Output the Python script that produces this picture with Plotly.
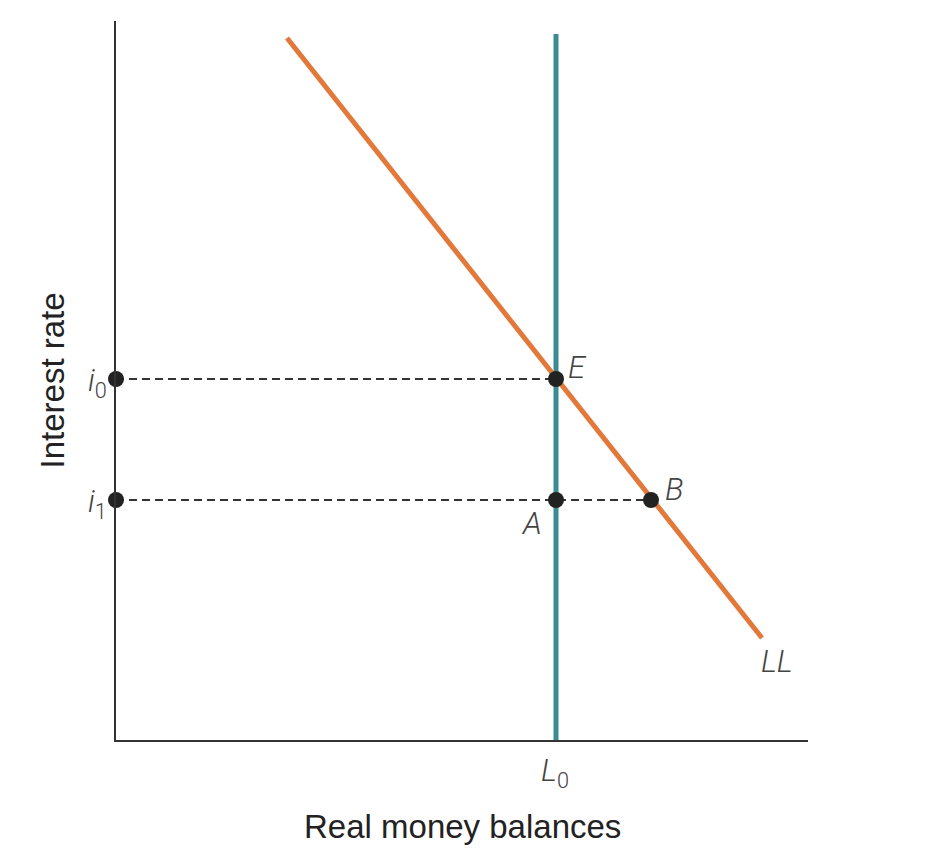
import plotly.graph_objects as go

# Money market: fixed real money supply L0 and the liquidity curve LL
money_supply_x = [440, 440]
money_supply_y = [0, 706]

ll_x = [171, 646]
ll_y = [702, 102]

rate_labels = ["<i>i</i><sub>0</sub>", "<i>i</i><sub>1</sub>"]
rate_values = [361, 240]

point_names = ["E", "A", "B"]
point_x = [440, 440, 535]
point_y = [361, 240, 240]

supply_label = "<i>L</i><sub>0</sub>"
curve_label = "LL"

TEAL = "#3b8b92"
ORANGE = "#e2793a"
INK = "#222222"
LABEL = "#444444"
TITLE_FONT = dict(family="Liberation Sans", size=33, color=INK)
LAB_FONT = dict(family="Roboto", size=31, color=LABEL, weight=300)

fig = go.Figure()

# dashed guides from the rate axis to the points
for r, bx in zip(rate_values, [point_x[0], point_x[2]]):
    fig.add_trace(go.Scatter(x=[0, bx], y=[r, r], mode="lines",
                             line=dict(color="#333333", width=1.8, dash="8px,5px"),
                             hoverinfo="skip", showlegend=False))

fig.add_trace(go.Scatter(x=money_supply_x, y=money_supply_y, mode="lines",
                         line=dict(color=TEAL, width=5), showlegend=False))
fig.add_trace(go.Scatter(x=ll_x, y=ll_y, mode="lines",
                         line=dict(color=ORANGE, width=5), showlegend=False))

# dots on the rate axis and at the equilibrium points
fig.add_trace(go.Scatter(x=[0] * len(rate_values) + point_x,
                         y=rate_values + point_y, mode="markers",
                         marker=dict(color=INK, size=16),
                         cliponaxis=False, showlegend=False))

offsets = {"E": (21, 12), "A": (-25, -23), "B": (23, 11)}
for n, px, py in zip(point_names, point_x, point_y):
    dx, dy = offsets[n]
    fig.add_annotation(x=px, y=py, text=f"<i>{n}</i>", showarrow=False,
                       xanchor="center", yanchor="middle",
                       xshift=dx, yshift=dy, font=LAB_FONT)

for t, r in zip(rate_labels, rate_values):
    fig.add_annotation(x=0, y=r, text=t, showarrow=False, xshift=-19,
                       xanchor="center", yanchor="middle",
                       yshift=-3, font=LAB_FONT)

fig.add_annotation(x=money_supply_x[0], y=0, text=supply_label, showarrow=False,
                   xanchor="center", yanchor="middle",
                   xshift=-1, yshift=-32, font=LAB_FONT)
fig.add_annotation(x=ll_x[1], y=ll_y[1], text=f"<i>{curve_label}</i>",
                   xanchor="center", yanchor="middle",
                   showarrow=False, xshift=15, yshift=-23, font=LAB_FONT)

# axis titles
fig.add_annotation(xref="paper", yref="paper", x=0.5, y=0, yshift=-86,
                   xanchor="center", yanchor="middle",
                   text="Real money balances", showarrow=False, font=TITLE_FONT)
fig.add_annotation(xref="paper", yref="paper", x=0, y=0.5, xshift=-64,
                   xanchor="center", yanchor="middle",
                   text="Interest rate", textangle=-90, showarrow=False,
                   font=TITLE_FONT)

fig.update_layout(
    width=948, height=864,
    margin=dict(l=116, r=140, t=21, b=124),
    plot_bgcolor="white", paper_bgcolor="white",
    xaxis=dict(range=[0, 692], showline=True, linecolor="#333333", linewidth=2,
               showgrid=False, zeroline=False, showticklabels=False, ticks=""),
    yaxis=dict(range=[0, 719], showline=True, linecolor="#333333", linewidth=2,
               showgrid=False, zeroline=False, showticklabels=False, ticks=""),
)

fig.write_html("out.html")
